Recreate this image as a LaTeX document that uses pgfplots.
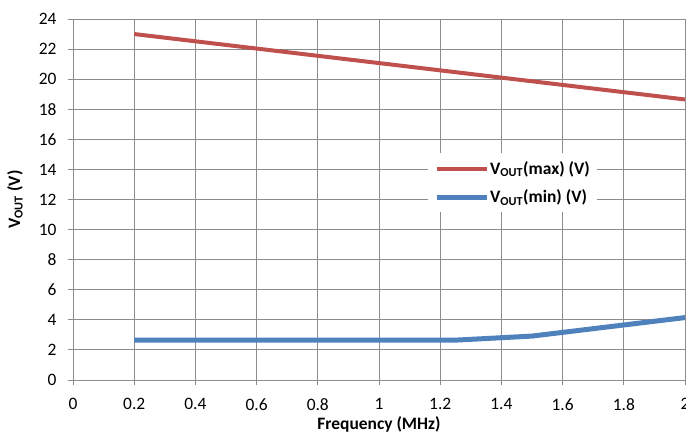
\documentclass[border=0pt]{standalone}
\usepackage{fontspec}
\setmainfont{Carlito}
\usepackage{pgfplots}
\pgfplotsset{compat=1.18}
\definecolor{exred}{HTML}{C0504D}
\definecolor{exblue}{HTML}{4F81BD}
\definecolor{gridgray}{HTML}{8C8C8C}

\begin{document}
\begin{tikzpicture}
\begin{axis}[
    at={(0,0)}, anchor=south west,
    scale only axis,
    width=612bp, height=361bp,
    xmin=0, xmax=2, ymin=0, ymax=24,
    xtick={0,0.2,0.4,0.6,0.8,1,1.2,1.4,1.6,1.8,2},
    ytick={0,2,4,6,8,10,12,14,16,18,20,22,24},
    xticklabels={0,0.2,0.4,0.6,0.8,1,1.2,1.4,1.6,1.8,2},
    grid=major,
    major grid style={gridgray, line width=0.9bp},
    axis line style={gridgray, line width=0.9bp},
    tick style={gridgray, line width=0.9bp},
    tick align=outside, tick pos=left,
    major tick length=5bp,
    /pgf/number format/assume math mode=true,
    tick label style={font=\fontsize{17.5}{20}\selectfont, black},
    yticklabel style={xshift=-8bp},
    xticklabel style={yshift=-10bp},
    xlabel={\textbf{Frequency (MHz)}},
    ylabel={\textbf{V\textsubscript{OUT} (V)}},
    label style={font=\fontsize{17.5}{20}\selectfont, black},
    xlabel style={at={(rel axis cs:0.5,0)}, anchor=center, yshift=-44bp},
    ylabel style={at={(rel axis cs:0,0.5)}, anchor=center, rotate=0, yshift=58bp},
    legend style={at={(rel axis cs:0.58,0.546)}, anchor=west, draw=none, fill=white,
        font=\bfseries\fontsize{17.5}{20}\selectfont, inner xsep=6bp, inner ysep=6bp,
        row sep=10bp, nodes={inner xsep=1bp}},
    legend cell align=left,
    legend image code/.code={\draw[#1] (0bp,0bp) -- (50bp,0bp);},
]
\addplot[exred, line width=4bp] coordinates {
    (0.2,23.0) (1.0,21.07) (2.0,18.65)
};
\addlegendentry{V\textsubscript{OUT}(max) (V)}
\addplot[exblue, line width=5bp] coordinates {
    (0.2,2.65) (0.6,2.65) (1.0,2.65) (1.25,2.65) (1.5,2.92) (2.0,4.15)
};
\addlegendentry{V\textsubscript{OUT}(min) (V)}
\end{axis}
\pgfresetboundingbox
\path[use as bounding box] (-73bp,-52bp) rectangle (613bp,380bp);
\end{tikzpicture}
\end{document}
